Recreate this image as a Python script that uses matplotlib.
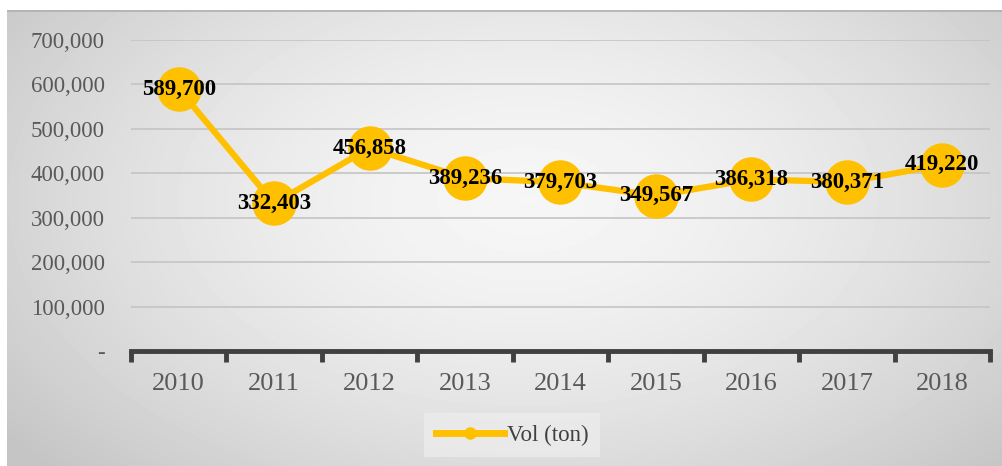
import numpy as np
import matplotlib
matplotlib.use("Agg")
import matplotlib.pyplot as plt
from matplotlib.ticker import FuncFormatter, FixedLocator

years = ["2010", "2011", "2012", "2013", "2014", "2015", "2016", "2017", "2018"]
vol = [589700, 332403, 456858, 389236, 379703, 349567, 386318, 380371, 419220]
series_name = "Vol (ton)"

yellow = "#FFC000"
grey_txt = "#595959"
serif = ["Liberation Serif", "DejaVu Serif"]

fig = plt.figure(figsize=(10.03, 4.66), dpi=100)
fig.patch.set_facecolor("white")

# radial gradient background
bg = fig.add_axes([7 / 1003, 0, 1 - 7 / 1003, 1 - 10 / 466])
yy, xx = np.mgrid[0:456, 0:996]
r = np.sqrt(((xx - 520) / 560.0) ** 2 + ((yy - 190) / 330.0) ** 2)
shade = np.clip(0.965 - 0.15 * r ** 1.6, 0.77, 0.97)
bg.imshow(shade, cmap="gray", vmin=0, vmax=1, aspect="auto", interpolation="bilinear")
bg.set_axis_off()
bg.plot([0, 995], [0, 0], color="#b0b0b0", lw=1.2)

ax = fig.add_axes([131 / 1003, (466 - 351) / 466, (990 - 131) / 1003, (351 - 40) / 466])
ax.patch.set_alpha(0)
x = np.arange(len(years))
ax.plot(x, vol, color=yellow, lw=4.5, marker="o", markersize=31, zorder=3,
        label=series_name)
for xi, v in zip(x, vol):
    ax.text(xi, v, f"{v:,}", ha="center", va="center", fontsize=16.5,
            fontweight="bold", family=serif, color="black", zorder=4)

ax.set_xlim(-0.5, len(years) - 0.5)
ax.set_ylim(0, 700000)
ax.set_yticks(np.arange(0, 700001, 100000))
ax.yaxis.set_major_formatter(FuncFormatter(lambda v, p: "-" if v == 0 else f"{int(v):,}"))
ax.grid(axis="y", color="#c4c4c4", lw=1.2)
ax.set_axisbelow(True)

for s in ["top", "right", "left"]:
    ax.spines[s].set_visible(False)
ax.spines["bottom"].set_color("#404040")
ax.spines["bottom"].set_linewidth(3.5)
ax.spines["bottom"].set_zorder(2)

ax.xaxis.set_major_locator(FixedLocator(np.arange(-0.5, len(years), 1.0)))
ax.xaxis.set_minor_locator(FixedLocator(x))
ax.set_xticklabels([], minor=False)
ax.set_xticklabels(years, minor=True)
ax.tick_params(axis="x", which="major", length=8, width=3.5, color="#404040", direction="out")
ax.tick_params(axis="x", which="minor", length=0, pad=16, labelsize=19, labelcolor=grey_txt)
ax.tick_params(axis="y", length=0, pad=19, labelsize=16.5, labelcolor=grey_txt)
for lab in ax.get_xticklabels(minor=True) + ax.get_yticklabels():
    lab.set_family(serif)

leg = ax.legend(handles=[plt.Line2D([], [], color=yellow, lw=5, marker="o", markersize=8)],
                labels=[series_name], loc="center",
                bbox_to_anchor=(512 / 1003, 1 - 435 / 466),
                bbox_transform=fig.transFigure, frameon=True, fancybox=False,
                handlelength=3.0, handletextpad=0.1, borderpad=0.5,
                prop={"family": serif, "size": 16.5})
leg.get_frame().set_facecolor("#ececec")
leg.get_frame().set_edgecolor("none")
leg.get_texts()[0].set_color("#404040")

fig.savefig("out.png", dpi=100)
